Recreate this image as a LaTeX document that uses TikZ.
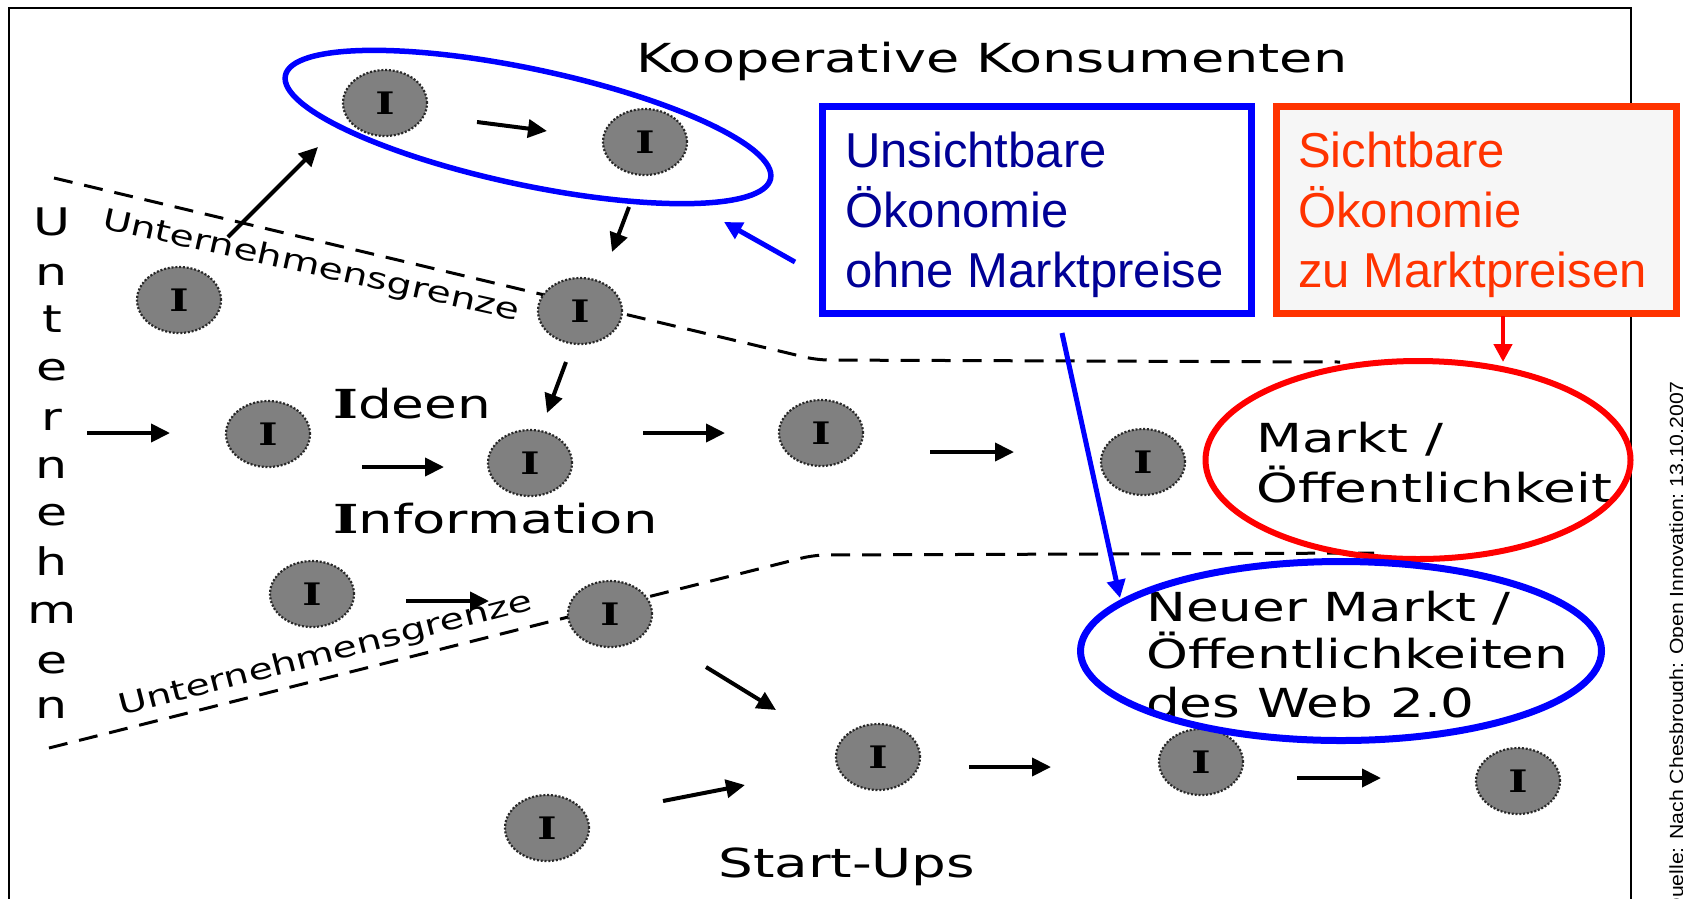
\documentclass[tikz,border=0pt]{standalone}
\usepackage{fontspec}
\setmainfont{DejaVu Sans}
\newfontfamily\arialf{Liberation Sans}
\newfontfamily\iserif{DejaVu Serif}
\usetikzlibrary{arrows.meta,shapes.geometric}
\definecolor{nodegray}{RGB}{128,128,128}
\definecolor{nodedark}{RGB}{40,40,40}
\definecolor{pblue}{RGB}{0,0,255}
\definecolor{navy}{RGB}{0,0,150}
\definecolor{pred}{RGB}{255,0,0}
\definecolor{orred}{RGB}{255,51,0}
\definecolor{boxgray}{RGB}{246,246,246}
\newcommand\wtx[1]{\scalebox{1.33}[1]{#1}}
\newcommand\fsz[1]{\fontsize{#1}{#1}\selectfont}
\newcommand\Ilab{\wtx{\fsz{31}\iserif\bfseries I}}
\begin{document}
\begin{tikzpicture}[x=1pt,y=-1pt,
  inode/.style={ellipse, fill=nodegray, draw=nodedark, dash pattern=on 2pt off 1.8pt,
    line width=2.2pt, minimum width=84pt, minimum height=66pt, inner sep=0pt},
  arr/.style={-{Triangle[length=19pt,width=18pt]}, line width=4pt},
  barr/.style={-{Triangle[length=18pt,width=18pt]}, line width=5pt, draw=pblue, fill=pblue},
  rarr/.style={-{Triangle[length=18pt,width=18pt]}, line width=4.5pt, draw=pred, fill=pred},
  bound/.style={dash pattern=on 19pt off 12pt, line width=3pt, rounded corners=12pt},
  lbl/.style={inner sep=0pt, anchor=base west, font=\fsz{40}},
  vlet/.style={inner sep=0pt, anchor=base, font=\fsz{38}},
  glbl/.style={inner sep=0pt, anchor=base west, font=\fsz{29}},
  btx/.style={inner sep=0pt, anchor=base west, font=\arialf\fsz{49}, text=navy},
  rtx/.style={inner sep=0pt, anchor=base west, font=\arialf\fsz{49}, text=orred},
  bigell/.style={ellipse, inner sep=0pt}
]
\clip (0,0) rectangle (1683,898);
\fill[white] (0,0) rectangle (1683,898);

% frame
\draw[line width=2.5pt] (9,905) -- (9,8) -- (1631,8) -- (1631,905);

% company boundaries
\coordinate (ua) at (54,178); \coordinate (ub) at (817,360); \coordinate (uc) at (1340,362);
\draw[bound] (ua) -- (ub) -- (uc);
\coordinate (la) at (49,748); \coordinate (lb) at (814,555); \coordinate (lc) at (1374,553);
\draw[bound] (la) -- (lb) -- (lc);

% idea nodes
\node[inode] (n1) at (385,103) {\Ilab};
\node[inode] (n2) at (645,142) {\Ilab};
\node[inode] (n3) at (179,300) {\Ilab};
\node[inode] (n4) at (580,311) {\Ilab};
\node[inode] (n5) at (268,434) {\Ilab};
\node[inode] (n6) at (530,463) {\Ilab};
\node[inode] (n7) at (821,433) {\Ilab};
\node[inode] (n8) at (1143,462) {\Ilab};
\node[inode] (n9) at (312,594) {\Ilab};
\node[inode] (n10) at (610,614) {\Ilab};
\node[inode] (n11) at (547,828) {\Ilab};
\node[inode] (n12) at (878,757) {\Ilab};
\node[inode] (n13) at (1201,762) {\Ilab};
\node[inode] (n14) at (1518,781) {\Ilab};

% black arrows
\coordinate (a1s) at (228,237);  \coordinate (a1e) at (318,147);
\coordinate (a2s) at (477,122);  \coordinate (a2e) at (547,131);
\coordinate (a3s) at (629,207);  \coordinate (a3e) at (612,252);
\coordinate (a4s) at (566,362);  \coordinate (a4e) at (547,413);
\coordinate (a5s) at (87,433);   \coordinate (a5e) at (170,433);
\coordinate (a6s) at (362,467);  \coordinate (a6e) at (444,467);
\coordinate (a7s) at (643,433);  \coordinate (a7e) at (725,433);
\coordinate (a8s) at (930,452);  \coordinate (a8e) at (1014,452);
\coordinate (a9s) at (406,601);  \coordinate (a9e) at (489,601);
\coordinate (a10s) at (706,667); \coordinate (a10e) at (776,710);
\coordinate (a11s) at (663,801); \coordinate (a11e) at (745,785);
\coordinate (a12s) at (969,767); \coordinate (a12e) at (1051,767);
\coordinate (a13s) at (1297,778);\coordinate (a13e) at (1381,778);
\foreach \k in {1,...,13} {\draw[arr] (a\k s) -- (a\k e);}

% labels
\node[lbl] (koop) at (636,72) {\scalebox{1.35}[1]{Kooperative Konsumenten}};
\node[lbl] (ideen) at (333,418) {\wtx{{\iserif\bfseries I}deen}};
\node[lbl] (info) at (333,533) {\scalebox{1.36}[1]{{\iserif\bfseries I}nformation}};
\node[lbl] (start) at (718,877) {\scalebox{1.37}[1]{Start-Ups}};
\node[lbl] (m1) at (1256,452) {\wtx{Markt /}};
\node[lbl] (m2) at (1256,502) {\wtx{Öffentlichkeit}};
\node[lbl] (w1) at (1146,621) {\wtx{Neuer Markt /}};
\node[lbl] (w2) at (1146,668) {\wtx{Öffentlichkeiten}};
\node[lbl] (w3) at (1146,717) {\wtx{des Web 2.0}};
\foreach \l/\y [count=\i] in {U/235,n/285,t/332,e/380,r/430,n/478,e/525,h/575,m/623,e/673,n/718}
  {\node[vlet] (v\i) at (52,\y) {\wtx{\l}};}
\node[glbl, rotate=-12.5] (g1) at (101,228) {\scalebox{1.36}[1]{Unternehmensgrenze}};
\node[glbl, rotate=14.5] (g2) at (121,716) {\scalebox{1.36}[1]{Unternehmensgrenze}};

% ellipses
\node[bigell, draw=pblue, line width=5.5pt, minimum width=496pt, minimum height=116pt, rotate=-12] (kons) at (528,127) {};
\node[bigell, draw=pred, line width=6pt, minimum width=425pt, minimum height=198pt] (markt) at (1418,460) {};
\node[bigell, draw=pblue, line width=7pt, minimum width=521pt, minimum height=179pt] (neu) at (1341,651) {};

% boxes
\node[draw=pblue, fill=white, line width=7pt, minimum width=429pt, minimum height=207pt, inner sep=0pt] (ubox) at (1036.5,209.5) {};
\node[draw=orred, fill=boxgray, line width=7pt, minimum width=400pt, minimum height=207pt, inner sep=0pt] (sbox) at (1476,209.5) {};
\node[btx] (u1) at (845,167) {Unsichtbare};
\node[btx] (u2) at (845,227) {Ökonomie};
\node[btx] (u3) at (845,287) {ohne Marktpreise};
\node[rtx] (s1) at (1298,167) {Sichtbare};
\node[rtx] (s2) at (1298,227) {Ökonomie};
\node[rtx] (s3) at (1298,287) {zu Marktpreisen};

% coloured arrows
\coordinate (b1s) at (795,262); \coordinate (b1e) at (724,222);
\coordinate (b2s) at (1062,333); \coordinate (b2e) at (1120,598);
\coordinate (r1s) at (1503,316); \coordinate (r1e) at (1503,362);
\draw[barr] (b1s) -- (b1e);
\draw[barr] (b2s) -- (b2e);
\draw[rarr] (r1s) -- (r1e);

% source
\node[inner sep=0pt, anchor=base east, rotate=90, font=\arialf\fsz{19}] (src) at (1683,381)
  {\scalebox{1.116}[1]{Quelle: Nach Chesbrough: Open Innovation; 13.10.2007}};
\end{tikzpicture}
\end{document}
